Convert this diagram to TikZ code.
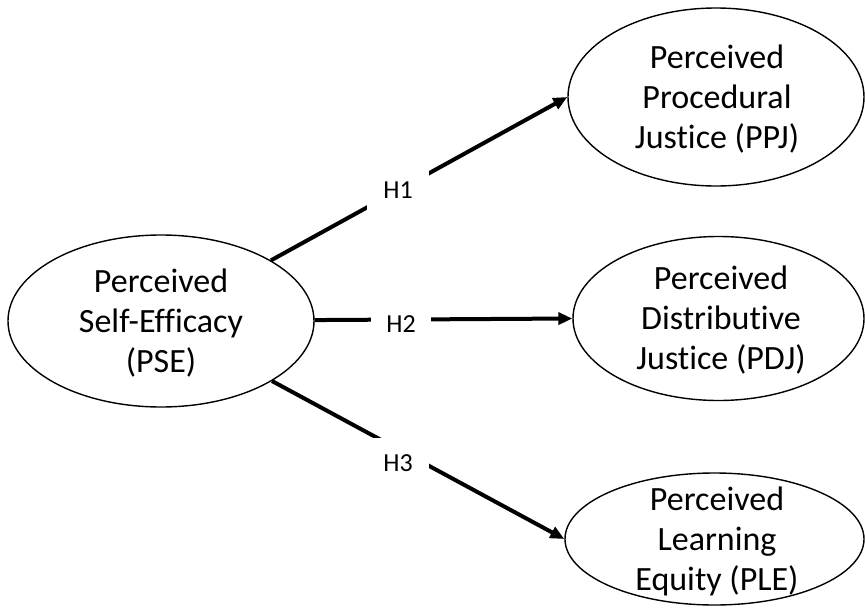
\documentclass[tikz,border=0pt]{standalone}
\usepackage{fontspec}
\setmainfont{Carlito}[Ligatures=NoCommon]
\usetikzlibrary{shapes.geometric,arrows.meta}

\tikzset{
  construct/.style={ellipse, draw=black, line width=1.4pt, inner sep=0pt},
  ctext/.style={align=center, inner sep=0pt, font=\fontsize{34}{40}\selectfont},
  path/.style={line width=4pt, -{Triangle[length=14pt,width=12pt]}},
  hyp/.style={fill=white, inner sep=0pt, minimum width=62pt, minimum height=50pt,
              font=\fontsize{26}{30}\selectfont}
}

\begin{document}
\begin{tikzpicture}[x=1pt, y=-1pt]
  \useasboundingbox (0,0) rectangle (865,608);

  % latent constructs
  \node[construct, minimum width=306pt, minimum height=172pt] (PSE) at (161,321) {};
  \node[construct, minimum width=296pt, minimum height=178pt] (PPJ) at (716,97) {};
  \node[construct, minimum width=291pt, minimum height=164pt] (PDJ) at (718.5,318.5) {};
  \node[construct, minimum width=299pt, minimum height=132pt] (PLE) at (714.5,539) {};

  \node[ctext] (PSEt) at (161,323) {Perceived\\Self-Efficacy\\(PSE)};
  \node[ctext] (PPJt) at (717,99) {Perceived\\Procedural\\Justice (PPJ)};
  \node[ctext] (PDJt) at (721,320) {Perceived\\Distributive\\Justice (PDJ)};
  \node[ctext] (PLEt) at (717,541) {Perceived\\Learning\\Equity (PLE)};

  % hypothesised paths
  \draw[path] (PSE) -- (PPJ.west);
  \draw[path] (PSE) -- (PDJ.west);
  \draw[path] (PSE) -- (PLE.west);

  % hypothesis labels
  \node[hyp] (H1) at (398,190) {H1};
  \node[hyp, minimum width=60pt] (H2) at (401,324) {H2};
  \node[hyp] (H3) at (398,463) {H3};
\end{tikzpicture}
\end{document}
